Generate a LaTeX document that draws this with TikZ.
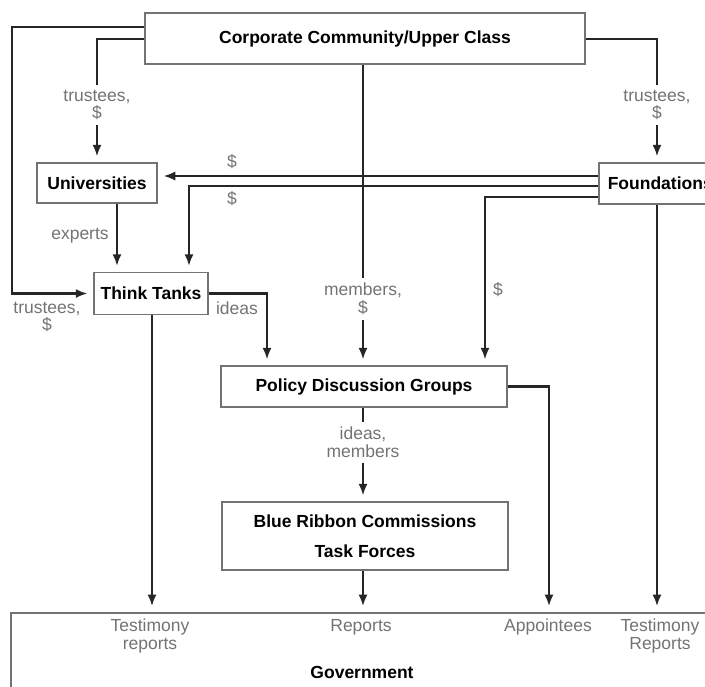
\documentclass[tikz,border=0pt]{standalone}
\usepackage{fontspec}
\setmainfont{Liberation Sans}
\usetikzlibrary{arrows.meta}
\tikzset{>={Latex[length=7pt,width=5.5pt]}}
\tikzset{
	box/.style={draw=black!55, line width=.9pt, font=\fontsize{10.5}{18}\selectfont\bfseries, align=center, inner sep=0pt},
	lnk/.style={line width=1.3pt, black!85},
	arr/.style={lnk, ->, shorten >=3.5pt},
	lbl/.style={text=black!55, font=\fontsize{10.5}{10.5}\selectfont, align=center, inner sep=3pt}
}

\begin{document}
\begin{tikzpicture}[x=.6pt, y=-.6pt]
	\useasboundingbox (0, 0) rectangle (705, 686);
	\clip (0, 0) rectangle (705, 686);
	% boxes
	\node[box, minimum width=264pt, minimum height=30.6pt](corp) at(365, 38.5){Corporate Community/Upper Class};
	\node[box, minimum width=72pt, minimum height=24pt](univ) at(97, 183){Universities};
	\node[box, anchor=west, text width=80pt, align=left, inner xsep=5.4pt, minimum height=24.6pt](found) at(598, 183.5){Foundations};
	\node[box, minimum width=68.4pt, minimum height=25.2pt](think) at(151, 293.5){Think Tanks};
	\node[box, minimum width=171.6pt, minimum height=24.6pt](policy) at(364, 386.5){Policy Discussion Groups};
	\node[box, minimum width=171.6pt, minimum height=40.8pt](blue) at(365, 536){Blue Ribbon Commissions\\Task Forces};
	\node[box, anchor=north west, minimum width=500pt, minimum height=80pt](gov) at(10, 612){};
	% labels
	\node[lbl](tu) at(97, 105){trustees,\\\$};
	\node[lbl](tf) at(657, 105){trustees,\\\$};
	\node[lbl](ms) at(363, 299){members,\\\$};
	\node[lbl](im) at(363, 442){ideas,\\members};
	\node[lbl](d1) at(232, 162){\$};
	\node[lbl](d2) at(232, 199){\$};
	\node[lbl](d3) at(498, 290){\$};
	\node[lbl](ex) at(80, 236){experts};
	\node[lbl](id) at(237, 308){ideas};
	\node[lbl](tt) at(47, 317){trustees,\\\$};
	\node[lbl](g1) at(150, 636){Testimony\\reports};
	\node[lbl](g2) at(361, 627){Reports};
	\node[lbl](g3) at(548, 627){Appointees};
	\node[lbl](g4) at(660, 636){Testimony\\Reports};
	\node[box, draw=none](g5) at(362, 672){Government};
	% connectors
	\draw[arr](corp.west |- 0, 27)--(12, 27)|-(think);
	\draw[lnk](corp.west |- 0, 39)-|(tu);
	\draw[arr](tu)--(tu |- univ.north);
	\draw[lnk](corp.east |- 0, 39)-|(tf);
	\draw[arr](tf)--(tf |- found.north);
	\draw[lnk](corp.south -| ms)--(ms);
	\draw[arr](ms)--(ms |- policy.north);
	\draw[arr](found.west |- 0, 176)--(univ.east |- 0, 176);
	\draw[arr](found.west |- 0, 186)-|(think.north -| 189, 0);
	\draw[arr](found.west |- 0, 197)-|(policy.north -| 485, 0);
	\draw[arr](found.south -| 657, 0)--(gov.north -| 657, 0);
	\draw[arr](univ.south -| 117, 0)--(think.north -| 117, 0);
	\draw[arr](think.east)-|(policy.north -| 267, 0);
	\draw[arr](think.south -| 152, 0)--(gov.north -| 152, 0);
	\draw[lnk](policy.south -| im)--(im);
	\draw[arr](im)--(im |- blue.north);
	\draw[arr](policy.east)-|(gov.north -| 549, 0);
	\draw[arr](blue.south -| im)--(gov.north -| im);
\end{tikzpicture}
\end{document}
